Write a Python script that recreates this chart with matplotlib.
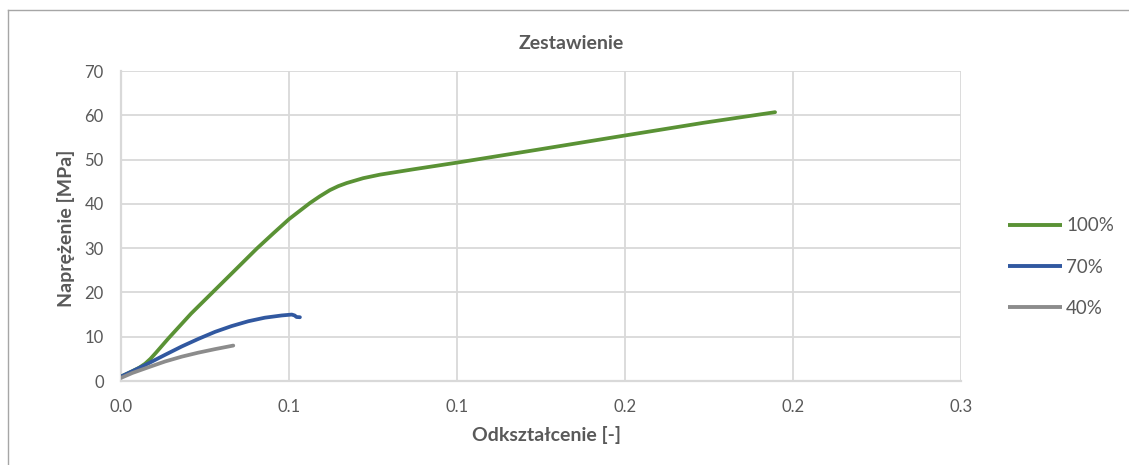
import matplotlib
matplotlib.use("Agg")
import matplotlib.pyplot as plt
from matplotlib.lines import Line2D

# ---- data ----
strain_100 = [0.0, 0.0040, 0.0065, 0.0086, 0.0105, 0.0125, 0.0169, 0.0250, 0.0330, 0.0410,
              0.0485, 0.0545, 0.0601, 0.0640, 0.0675, 0.0710, 0.0746, 0.0776, 0.0806,
              0.0865, 0.0925, 0.1044, 0.1199, 0.1485, 0.1796, 0.2080, 0.2336]
stress_100 = [1.0, 2.2, 3.0, 3.9, 5.0, 6.4, 9.6, 15.2, 20.2, 25.2,
              29.9, 33.4, 36.6, 38.5, 40.2, 41.7, 43.1, 44.0, 44.7,
              45.8, 46.6, 47.8, 49.3, 52.2, 55.4, 58.3, 60.7]

strain_70 = [0.0, 0.0040, 0.0086, 0.0157, 0.0217, 0.0276, 0.0336, 0.0395, 0.0455, 0.0514,
             0.0574, 0.0610, 0.0620, 0.0627, 0.0639]
stress_70 = [1.0, 2.2, 3.6, 5.9, 7.8, 9.5, 11.1, 12.4, 13.5, 14.3,
             14.8, 15.0, 14.8, 14.45, 14.4]

strain_40 = [0.0, 0.0040, 0.0098, 0.0157, 0.0217, 0.0276, 0.0336, 0.0401]
stress_40 = [0.7, 1.8, 3.1, 4.4, 5.5, 6.4, 7.2, 8.0]

series_labels = ["100%", "70%", "40%"]
series_colors = ["#5A9235", "#3158A0", "#8C8C8C"]

x_ticks = [0.0, 0.06, 0.12, 0.18, 0.24, 0.30]
x_tick_labels = ["0.0", "0.1", "0.1", "0.2", "0.2", "0.3"]
y_ticks = [0, 10, 20, 30, 40, 50, 60, 70]

title = "Zestawienie"
x_label = "Odkształcenie [-]"
y_label = "Naprężenie [MPa]"

# ---- plot ----
plt.rcParams['font.family'] = ['Lato', 'DejaVu Sans']
text_col = "#595959"
grid_col = "#D9D9D9"

W, H = 1129, 465
fig = plt.figure(figsize=(W / 100, H / 100), dpi=100)
ax = fig.add_axes([121 / W, 1 - 381 / H, (961 - 121) / W, (381 - 71) / H])

for xs, ys, lab, col in zip([strain_100, strain_70, strain_40],
                            [stress_100, stress_70, stress_40],
                            series_labels, series_colors):
    ax.plot(xs, ys, color=col, lw=2.7, label=lab, solid_capstyle='round',
            solid_joinstyle='round', zorder=3)

ax.set_xlim(0, 0.3)
ax.set_ylim(0, 70)
ax.set_xticks(x_ticks)
ax.set_xticklabels(x_tick_labels)
ax.set_yticks(y_ticks)
ax.grid(True, color=grid_col, lw=1.3, zorder=0)
for s in ax.spines.values():
    s.set_visible(False)
ax.spines['bottom'].set_visible(True)
ax.spines['bottom'].set_color(grid_col)
ax.spines['bottom'].set_linewidth(1.6)
ax.spines['left'].set_visible(True)
ax.spines['left'].set_color(grid_col)
ax.spines['left'].set_linewidth(1.6)
ax.tick_params(length=0, labelsize=12, colors=text_col)
ax.tick_params(axis='y', pad=12.5)
ax.tick_params(axis='x', pad=13)
ax.set_axisbelow(True)

fig.text(571 / W, 1 - 43 / H, title, fontsize=14, fontweight='bold', color=text_col,
         ha='center', va='center')
fig.text(546 / W, 1 - 435 / H, x_label, fontsize=14, fontweight='bold', color=text_col,
         ha='center', va='center')
fig.text(66 / W, 1 - 228 / H, y_label, fontsize=14, fontweight='bold', color=text_col,
         ha='center', va='center', rotation=90)

handles, labels = ax.get_legend_handles_labels()
leg = fig.legend(handles, labels, loc='center left',
                 bbox_to_anchor=(1008 / W, 1 - 267 / H),
                 frameon=False, fontsize=13.5, handlelength=2.88,
                 labelspacing=1.3, handletextpad=0.22, labelcolor=text_col,
                 borderpad=0, borderaxespad=0)
for h in leg.legend_handles:
    h.set_linewidth(2.8)
    h.set_solid_capstyle('butt')

# outer chart frame (partially visible)
fig.add_artist(Line2D([8 / W, 8 / W], [0, 1 - 10 / H], transform=fig.transFigure,
                      color="#A6A6A6", lw=1))
fig.add_artist(Line2D([8 / W, 1], [1 - 10 / H, 1 - 10 / H], transform=fig.transFigure,
                      color="#A6A6A6", lw=1))

fig.savefig("out.png", dpi=100)
